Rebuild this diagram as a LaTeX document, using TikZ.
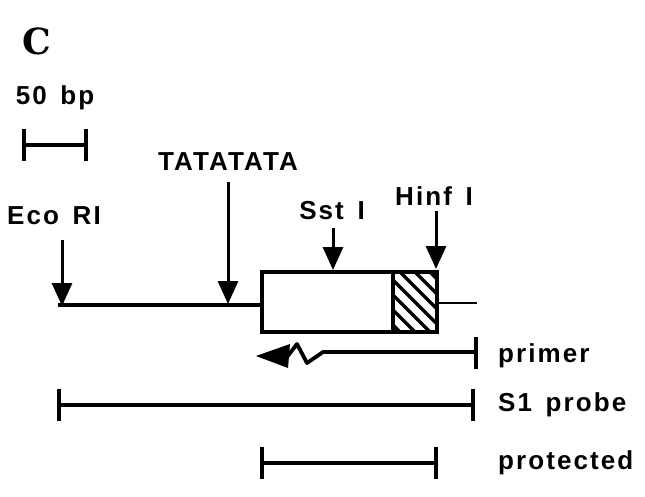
\documentclass[tikz,border=0pt]{standalone}
\usepackage{fontspec}
\setmainfont{Liberation Sans}
\newfontfamily\lblfont[LetterSpace=8]{Liberation Sans}
\newfontfamily\serifbold{DejaVu Serif}
\usetikzlibrary{arrows.meta}
\tikzset{
  lbl/.style={font=\lblfont\bfseries\fontsize{26}{30}\selectfont, inner sep=0pt},
  thick line/.style={line width=4pt},
  site/.style={line width=3pt, -{Triangle[length=23pt,width=20pt]}},
  tickbar/.style={line width=3.8pt, {Bar[width=32pt]}-{Bar[width=32pt]}},
}
\begin{document}
\begin{tikzpicture}[x=1pt,y=-1pt]
\useasboundingbox (0,0) rectangle (645,496);
% panel letter
\node[font=\serifbold\bfseries\fontsize{36}{40}\selectfont, inner sep=0pt, anchor=center] (C) at (37,41) {C};
% scale bar
\node[lbl] (scale) at (55,98) {50\, bp};
\coordinate (sbL) at (22,145);
\coordinate (sbR) at (88,145);
\draw[tickbar] (sbL) -- (sbR);
% labels
\node[lbl] (tata) at (228,162) {TATATATA};
\node[lbl] (eco) at (54,216) {Eco\, RI};
\node[lbl] (sst) at (332,211) {Sst\, I};
\node[lbl] (hinf) at (434,196) {Hinf\, I};
% main line
\coordinate (lineL) at (58,305);
\coordinate (lineR) at (260,305);
\draw[thick line] (lineL) -- (lineR);
\coordinate (stubL) at (438,303);
\coordinate (stubR) at (477,303);
\draw[line width=2.2pt] (stubL) -- (stubR);
% hatched region
\begin{scope}
  \clip (393,270) rectangle (435,330);
  \foreach \x in {330,345,...,440} {
    \draw[line width=3.5pt] (\x,262) -- (\x+70,332);
  }
\end{scope}
% box
\node[draw, line width=4pt, minimum width=175pt, minimum height=60pt, inner sep=0pt, anchor=north west] (box) at (260,270) {};
\coordinate (hatchT) at (393,270);
\coordinate (hatchB) at (393,330);
\draw[line width=3.5pt] (hatchT) -- (hatchB);
% site arrows
\coordinate (ecoT) at (62,240);
\coordinate (ecoB) at (62,306);
\draw[site] (ecoT) -- (ecoB);
\coordinate (tataT) at (228,182);
\coordinate (tataB) at (228,304);
\draw[site] (tataT) -- (tataB);
\coordinate (sstT) at (333,228);
\coordinate (sstB) at (333,270);
\draw[site] (sstT) -- (sstB);
\coordinate (hinfT) at (436,211);
\coordinate (hinfB) at (436,269);
\draw[site] (hinfT) -- (hinfB);
% primer
\coordinate (prR) at (476,352);
\draw[line width=3.8pt, line join=round] (prR) -- (323,352) -- (307,363) -- (297,344) -- (287,357);
\fill (256,356) -- (290,344) -- (288,368) -- cycle;
\draw[line width=3.8pt] (476,337) -- (476,369);
\node[lbl, anchor=west] (primer) at (498,356) {primer};
% S1 probe
\coordinate (s1L) at (57,405);
\coordinate (s1R) at (475,405);
\draw[tickbar] (s1L) -- (s1R);
\node[lbl, anchor=west] (s1) at (498,405) {S1\, probe};
% protected
\coordinate (prL) at (260,463);
\coordinate (prRR) at (438,463);
\draw[tickbar] (prL) -- (prRR);
\node[lbl, anchor=west] (prot) at (498,463) {protected};
\end{tikzpicture}
\end{document}
